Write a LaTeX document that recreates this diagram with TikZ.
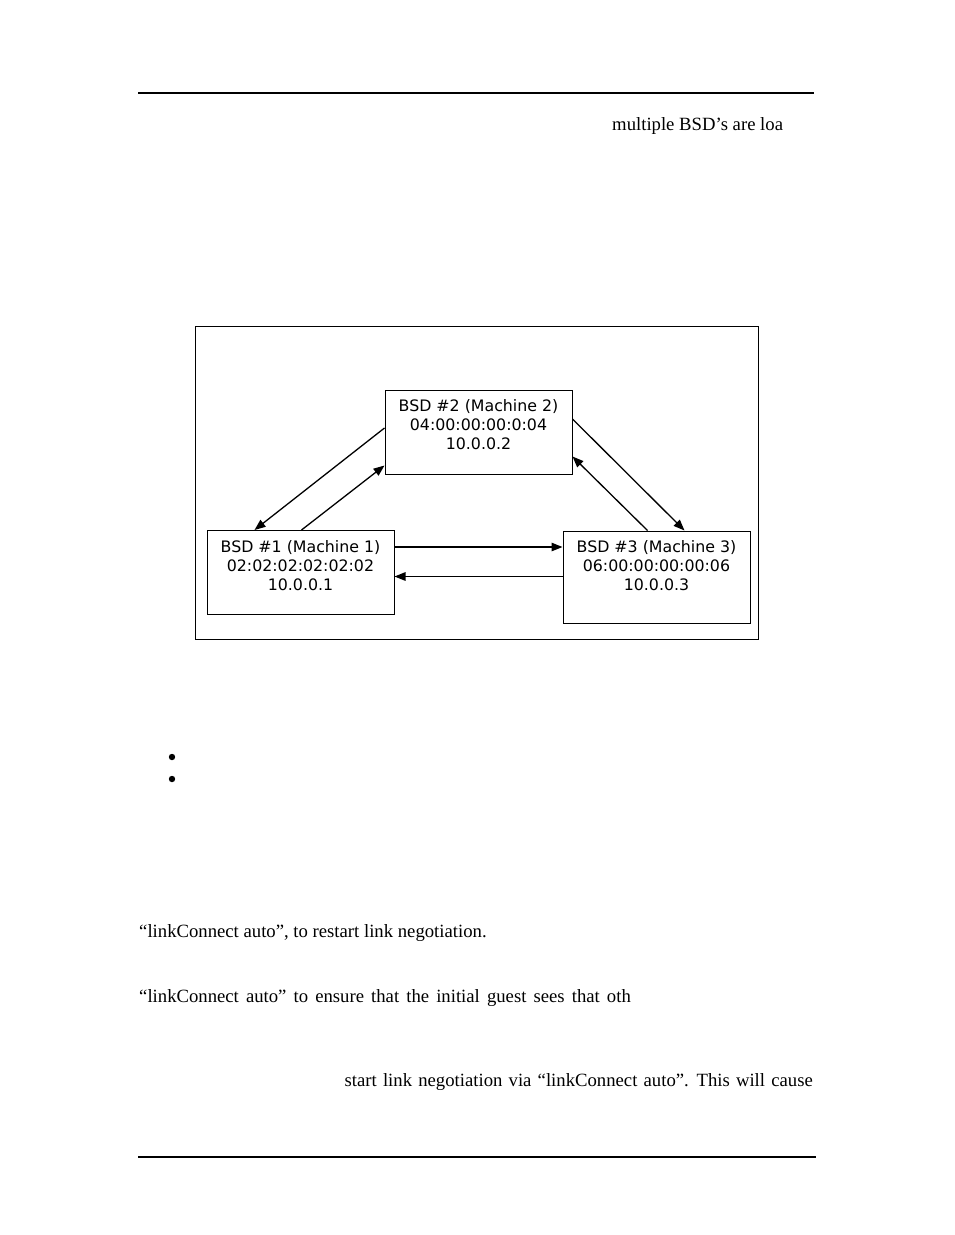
\documentclass[tikz,border=0pt]{standalone}
\usepackage{fontspec}
\setmainfont{Liberation Serif}
\newfontfamily\boxfont{DejaVu Sans}
\usetikzlibrary{arrows.meta,positioning}
\tikzset{
	bsdbox/.style={draw, line width=1pt, minimum width=187pt, minimum height=84pt, inner sep=0pt},
	bsdtext/.style={align=center, font=\boxfont\fontsize{15.8}{19}\selectfont, inner sep=0pt},
	link/.style={line width=1.3pt, -{Triangle[length=11pt,width=8.5pt]}},
	pagetext/.style={font=\fontsize{18.7}{22}\selectfont, inner sep=0pt},
	bulletdot/.style={circle, fill=black, inner sep=0pt, minimum size=6.4pt}
}

\begin{document}
\begin{tikzpicture}[x=1pt, y=-1pt]
			%%%%% START %%%%%
			\useasboundingbox[fill=white] (0, 0) rectangle (954, 1235);
			
			\draw[line width=1.3pt] (138, 93) -- (814, 93);
			\node[pagetext, anchor=base west] (head) at (612, 130) {multiple BSD’s are loa};
			
			\draw[line width=1pt] (195, 326) rectangle (758, 639);
			
			\node[bsdbox] (bsd2) at (478.5, 432) {};
			\node[bsdtext, below=10pt of bsd2.north] (bsd2txt) {BSD \#2 (Machine 2)\\04:00:00:00:0:04\\10.0.0.2};
			
			\node[bsdbox] (bsd1) at (300.5, 572.5) {};
			\node[bsdtext, below=10pt of bsd1.north] (bsd1txt) {BSD \#1 (Machine 1)\\02:02:02:02:02:02\\10.0.0.1};
			
			\node[bsdbox, minimum height=92pt] (bsd3) at (656.5, 577) {};
			\node[bsdtext, below=10pt of bsd3.north] (bsd3txt) {BSD \#3 (Machine 3)\\06:00:00:00:00:06\\10.0.0.3};
			
			\draw[link] ([yshift=4pt]bsd2.west) -- ([xshift=-46pt]bsd1.north);
			\draw[link] ([xshift=1pt]bsd1.north) -- ([yshift=9pt]bsd2.south west);
			\draw[link] ([yshift=13pt]bsd2.east) -- ([xshift=28pt]bsd3.north);
			\draw[link] ([xshift=-9pt]bsd3.north) -- ([yshift=18pt]bsd2.south east);
			
			\coordinate (m13) at ([yshift=-17pt]bsd1.north east);
			\coordinate (m31) at ([yshift=-46pt]bsd3.north west);
			\draw[link] (m13) -- (m13 -| bsd3.west);
			\draw[link] (m31) -- (m31 -| bsd1.east);
			
			\node[bulletdot] (dot1) at (172, 757) {};
			\node[bulletdot] (dot2) at (172, 779) {};
			
			\node[pagetext, anchor=base west] (line1) at (139, 937) {“linkConnect auto”, to restart link negotiation.};
			\node[pagetext, anchor=base west] (line2) at (139, 1002) {\spaceskip=7.1pt “linkConnect auto” to ensure that the initial guest sees that oth};
			\node[pagetext, anchor=base east] (line3) at (813, 1086) {\spaceskip=6.2pt start link negotiation via “linkConnect auto”. This will cause};
			
			\draw[line width=1.3pt] (138, 1157) -- (816, 1157);
			%%%%% END %%%%%
\end{tikzpicture}
\end{document}
